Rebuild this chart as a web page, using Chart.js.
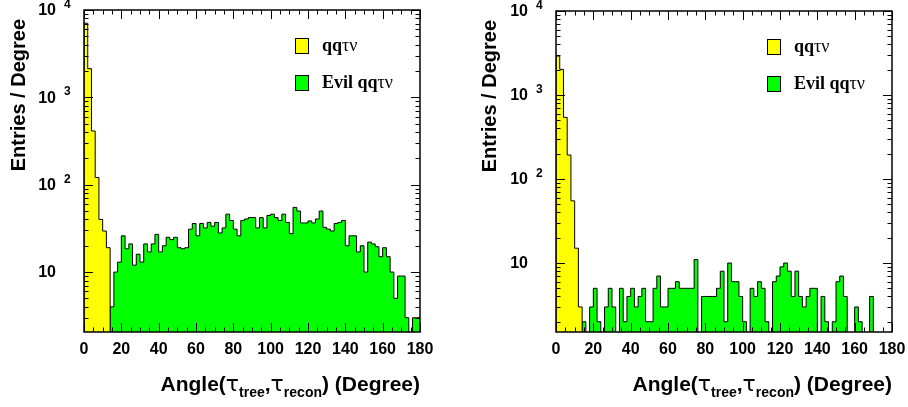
<!DOCTYPE html>
<html>
<head>
<meta charset="utf-8">
<script src="https://cdn.jsdelivr.net/npm/chart.js@4.4.0/dist/chart.umd.min.js"></script>
<style>
    body { margin: 0; background: #fff; }
    .pad { position: absolute; top: 0; width: 454px; height: 407px; }
</style>
</head>
<body>
<div class="pad" style="left:0"><canvas id="left-chart" width="454" height="407"></canvas></div>
<div class="pad" style="left:454px"><canvas id="right-chart" width="454" height="407"></canvas></div>
<script>
// histogram binning: 90 bins of 2 degrees from 0 to 180
const binWidth = 2;
const nBins = 90;
const xTickValues = [0, 20, 40, 60, 80, 100, 120, 140, 160, 180];
const yDecades = [10, 100, 1000, 10000];

// left pad (entries / degree)
const leftQqtn = [7060, 2130, 412, 121, 40, 29.5, 19];
const leftEvilFirstBin = 7;
const leftEvil = [
    4, 10, 13, 26, 18.5, 21, 12, 16, 13, 21,
    17, 21, 27, 17, 20, 25, 23.5, 25, 19, 18.5,
    19, 31, 36, 26, 36, 32, 37, 33.5, 37, 28,
    32, 46, 39, 31, 26, 39, 40.5, 42, 42, 32,
    42, 32, 44.5, 46, 42, 39, 46, 37, 27.5, 55,
    50, 36.5, 36.5, 38.5, 36.5, 40.5, 50, 32.5, 31, 29.5,
    36, 37, 39, 20, 26, 26, 17, 20, 10, 22,
    21, 19.5, 15, 19, 15, 10, 5, 9, 9, 3,
    0, 3, 3
];

// right pad
const rightQqtn = [2910, 2020, 542, 193, 55, 15, 3];
const rightEvilFirstBin = 7;
const rightEvil = [
    2, 0, 3, 5, 2, 0, 3, 5, 3, 0,
    5, 2, 4, 5, 3, 4, 5, 2, 2, 5,
    7, 3, 3, 5, 5, 6, 5, 5, 5, 5,
    11, 0, 4, 4, 4, 4, 5, 8, 2, 10,
    6, 6, 4, 2, 0, 5, 4, 6, 5, 2,
    0, 6, 7, 9, 10, 8, 4, 8, 4, 3,
    4, 5, 5, 0, 4, 2, 0, 2, 6, 7,
    4, 0, 0, 3, 2, 0, 0, 4, 0, 0,
    0, 0, 0
];

const yellow = '#ffff00';
const green = '#00ff00';

function fullBins(values, firstBin) {
    const bins = new Array(nBins).fill(0);
    values.forEach((v, i) => { bins[firstBin + i] = v; });
    return bins;
}

// turn bin contents into the outline of a ROOT style histogram (stepped line)
function histPoints(bins, floor) {
    const pts = [{x: 0, y: floor}];
    bins.forEach((v, i) => {
        pts.push({x: i * binWidth, y: v > 0 ? v : floor});
    });
    const last = bins[bins.length - 1];
    pts.push({x: bins.length * binWidth, y: last > 0 ? last : floor});
    pts.push({x: bins.length * binWidth, y: floor});
    return pts;
}

function histDataset(label, bins, color, yMin) {
    return {
        label: label,
        data: histPoints(bins, yMin / 10),
        stepped: true,
        fill: 'start',
        backgroundColor: color,
        borderColor: '#000',
        borderWidth: 1,
        pointRadius: 0,
        tension: 0
    };
}

function drawParts(ctx, parts, x, baseY, alignRight) {
    let total = 0;
    parts.forEach(p => {
        ctx.font = p.font;
        p.w = ctx.measureText(p.text).width;
        total += p.w;
    });
    let cx = alignRight ? x - total : x;
    parts.forEach(p => {
        ctx.font = p.font;
        ctx.fillText(p.text, cx, baseY + (p.dy || 0));
        cx += p.w;
    });
}

// frame, inside ticks, labels, titles and legend in ROOT style
const rootFrame = {
    id: 'rootFrame',
    afterDraw(chart, args, opts) {
        const ctx = chart.ctx;
        const a = chart.chartArea;
        const x = chart.scales.x;
        const y = chart.scales.y;
        ctx.save();
        ctx.strokeStyle = '#000';
        ctx.fillStyle = '#000';

        ctx.lineWidth = 1;
        ctx.beginPath();
        // x ticks every 5 degrees, major every 20
        for (let v = 0; v <= 180; v += 5) {
            const px = Math.round(x.getPixelForValue(v)) + 0.5;
            const len = v % 20 === 0 ? 9 : 4.5;
            ctx.moveTo(px, a.bottom); ctx.lineTo(px, a.bottom - len);
            ctx.moveTo(px, a.top); ctx.lineTo(px, a.top + len);
        }
        // y ticks: decades and 2..9 minors
        for (let e = -1; e <= 4; e++) {
            for (let m = 1; m <= 9; m++) {
                const v = m * Math.pow(10, e);
                if (v < y.min || v > y.max) continue;
                const py = Math.round(y.getPixelForValue(v)) + 0.5;
                const len = m === 1 ? 9 : 4.5;
                ctx.moveTo(a.left, py); ctx.lineTo(a.left + len, py);
                ctx.moveTo(a.right, py); ctx.lineTo(a.right - len, py);
            }
        }
        ctx.stroke();

        ctx.lineWidth = 1.5;
        ctx.strokeRect(a.left, a.top, a.right - a.left, a.bottom - a.top);

        // x tick labels
        ctx.font = 'bold 16px "Liberation Sans", Arial, sans-serif';
        ctx.textAlign = 'center';
        ctx.textBaseline = 'top';
        xTickValues.forEach(v => {
            ctx.fillText(String(v), x.getPixelForValue(v), a.bottom + 10);
        });

        // y tick labels 10, 10^2, ...
        yDecades.forEach(v => {
            const py = y.getPixelForValue(v);
            const exp = Math.round(Math.log10(v));
            ctx.font = 'bold 16px "Liberation Sans", Arial, sans-serif';
            ctx.textAlign = 'right';
            ctx.textBaseline = 'middle';
            ctx.fillText('10', a.left - 28, py + 1);
            if (exp > 1) {
                ctx.font = 'bold 12px "Liberation Sans", Arial, sans-serif';
                ctx.textAlign = 'left';
                ctx.textBaseline = 'alphabetic';
                ctx.fillText(String(exp), a.left - 20, py - 2);
            }
        });

        // y title
        ctx.save();
        ctx.translate(opts.yTitleX, a.top + 9);
        ctx.rotate(-Math.PI / 2);
        ctx.font = 'bold 20px "Liberation Sans", Arial, sans-serif';
        ctx.textAlign = 'right';
        ctx.textBaseline = 'alphabetic';
        ctx.fillText('Entries / Degree', 0, 0);
        ctx.restore();

        // x title
        ctx.textAlign = 'left';
        ctx.textBaseline = 'alphabetic';
        const big = 'bold 21px "Liberation Sans", Arial, sans-serif';
        const sub = 'bold 14px "Liberation Sans", Arial, sans-serif';
        const greek = '22px "DejaVu Sans", sans-serif';
        drawParts(ctx, [
            {text: 'Angle(', font: big},
            {text: 'τ', font: greek},
            {text: 'tree', font: sub, dy: 6},
            {text: ',', font: big},
            {text: 'τ', font: greek},
            {text: 'recon', font: sub, dy: 6},
            {text: ') (Degree)', font: big}
        ], a.right, 391, true);

        // legend
        const boxX = a.left + 211;
        const entries = [
            {color: yellow, text: 'qq'},
            {color: green, text: 'Evil qq'}
        ];
        entries.forEach((item, i) => {
            const top = a.top + 28 + i * 37;
            ctx.fillStyle = item.color;
            ctx.fillRect(boxX, top, 13, 15);
            ctx.lineWidth = 1;
            ctx.strokeRect(boxX + 0.5, top + 0.5, 13, 15);
            ctx.fillStyle = '#000';
            drawParts(ctx, [
                {text: item.text, font: 'bold 18px "Liberation Serif", serif'},
                {text: 'τν', font: '18px "Liberation Serif", serif'}
            ], a.left + 238, top + 13, false);
        });

        ctx.restore();
    }
};

function makeHistChart(canvasId, qqtnBins, evilBins, yMin, axisWidth, padRight, padTop, yTitleX) {
    return new Chart(document.getElementById(canvasId), {
        type: 'line',
        data: {
            datasets: [
                histDataset('qqτν', qqtnBins, yellow, yMin),
                histDataset('Evil qqτν', evilBins, green, yMin)
            ]
        },
        options: {
            responsive: false,
            animation: false,
            events: [],
            layout: {padding: {left: 0, right: padRight, top: padTop, bottom: 0}},
            scales: {
                x: {
                    type: 'linear',
                    min: 0,
                    max: 180,
                    grid: {display: false},
                    border: {display: false},
                    ticks: {display: false},
                    afterFit: (scale) => { scale.height = 75; }
                },
                y: {
                    type: 'logarithmic',
                    min: yMin,
                    max: 10000,
                    grid: {display: false},
                    border: {display: false},
                    ticks: {display: false},
                    afterFit: (scale) => { scale.width = axisWidth; }
                }
            },
            plugins: {
                legend: {display: false},
                tooltip: {enabled: false},
                rootFrame: {yTitleX: yTitleX}
            }
        },
        plugins: [rootFrame]
    });
}

makeHistChart('left-chart', fullBins(leftQqtn, 0), fullBins(leftEvil, leftEvilFirstBin), 2.06, 84, 34, 10, 25);
makeHistChart('right-chart', fullBins(rightQqtn, 0), fullBins(rightEvil, rightEvilFirstBin), 1.51, 102, 16, 11, 42);
</script>
</body>
</html>
